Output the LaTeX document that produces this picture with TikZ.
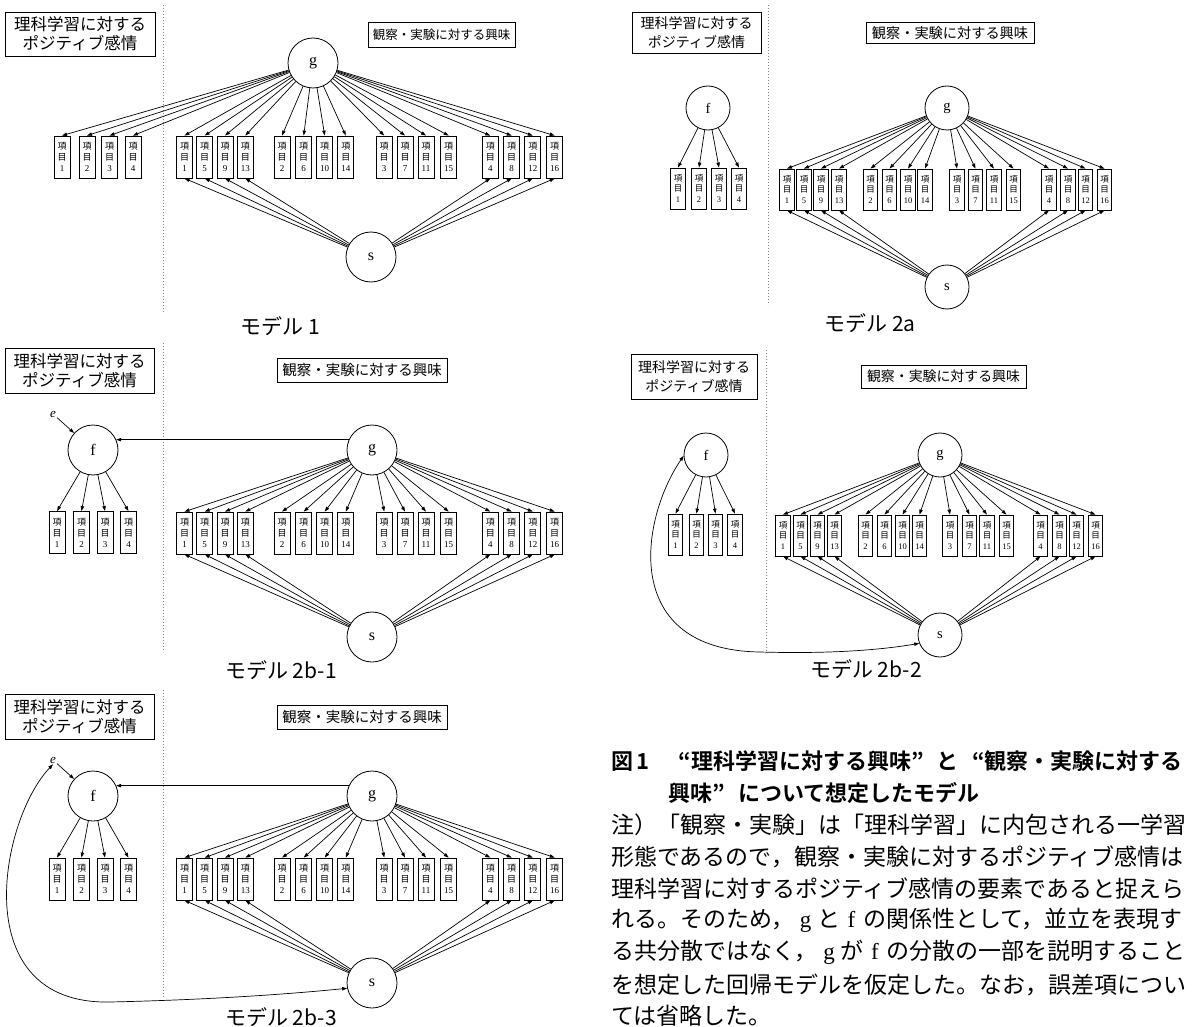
\documentclass[tikz,border=0pt]{standalone}
\usepackage{fontspec}
\setmainfont{Liberation Serif}
\newfontfamily\jp[BoldFont={Noto Sans CJK JP Bold}]{Noto Sans CJK JP}
\usetikzlibrary{arrows.meta}
\newcommand{\itmtxt}[1]{{\jp 項}\\{\jp 目}\\#1}
\newcommand{\gf}[1]{\hbox to 1em{\hss\rmfamily #1\hss}}
\begin{document}
\begin{tikzpicture}[x=1pt,y=-1pt,
 ln/.style={line width=0.7pt},
 arr/.style={ln,-{Triangle[length=5pt,width=3.4pt]}},
 dbl/.style={ln,{Triangle[length=5pt,width=3.4pt]}-{Triangle[length=5pt,width=3.4pt]}},
 latL/.style={circle,draw,line width=0.8pt,inner sep=0,minimum size=50,font=\fontsize{16}{16}\selectfont},
 latR/.style={latL,minimum size=44,font=\fontsize{14.5}{14.5}\selectfont},
 itemL/.style={draw,line width=0.8pt,inner sep=0,minimum width=16,minimum height=42,align=center,font=\fontsize{9}{11}\selectfont},
 itemR/.style={itemL,minimum width=14.5,minimum height=41,font=\fontsize{8.5}{10.5}\selectfont},
 boxA/.style={draw,line width=0.8pt,inner sep=0,align=center},
 divider/.style={gray,dotted,line width=1pt},
 errlab/.style={inner sep=1pt,font=\itshape\fontsize{13}{13}\selectfont},
 mlabel/.style={font=\jp\fontsize{21}{21}\selectfont},
 captext/.style={anchor=west,inner sep=0,font=\jp\fontsize{23}{23}\selectfont},
 captitle/.style={captext,font=\jp\bfseries\fontsize{22}{22}\selectfont},
]
\fill[white] (0,0) rectangle (1197,1027);
\useasboundingbox (0,0) rectangle (1197,1027);

% ================= Model 1 =================
\node[boxA,minimum width=150,minimum height=44,font=\jp\fontsize{16.5}{19}\selectfont] (A-box1) at (80,34) {理科学習に対する\\ポジティブ感情};
\node[boxA,minimum width=147,minimum height=25,font=\jp\fontsize{12.5}{14}\selectfont] (A-box2) at (441.5,34.5) {観察・実験に対する興味};
\draw[divider] (163,5) -- (163,312);
\node[latL] (A-g) at (313,63) {g};
\node[latL] (A-s) at (371,257) {s};
\foreach \n/\x in {1/62,2/87,3/109.5,4/133}
  \node[itemL] (A-f\n) at (\x,157) {\itmtxt{\n}};
\foreach \n/\x in {1/184.5,5/204.7,9/225,13/245.3,2/282,6/303.7,10/324.7,14/345.8,3/384.2,7/405,11/426,15/448.7,4/490.3,8/511.7,12/532.8,16/554.7}
  \node[itemL] (A-\n) at (\x,157) {\itmtxt{\n}};
\foreach \n in {1,2,3,4} \draw[arr] (A-g) -- (A-f\n.north);
\foreach \n in {1,...,16} \draw[arr] (A-g) -- (A-\n.north);
\foreach \n in {1,5,9,13,4,8,12,16} \draw[arr] (A-s) -- (A-\n.south);
\node[mlabel] (A-lab) at (280,326) {モデル 1};

% ================= Model 2a =================
\node[boxA,minimum width=129,minimum height=41,font=\jp\fontsize{14}{19}\selectfont] (B-box1) at (696.5,32.5) {理科学習に対する\\ポジティブ感情};
\node[boxA,minimum width=168,minimum height=21,font=\jp\fontsize{14.2}{15}\selectfont] (B-box2) at (950,33) {観察・実験に対する興味};
\draw[divider] (768,5) -- (768,305);
\node[latR] (B-f) at (708,108) {f};
\node[latR] (B-g) at (947,108) {g};
\node[latR] (B-s) at (947,287) {s};
\foreach \n/\x in {1/678,2/699,3/719,4/739}
  \node[itemR] (B-f\n) at (\x,188.5) {\itmtxt{\n}};
\foreach \n/\x in {1/787,5/804,9/821,13/839,2/870.5,6/889.5,10/908,14/925,3/957,7/975.5,11/994,15/1013.5,4/1049,8/1068,12/1085.5,16/1104.5}
  \node[itemR] (B-\n) at (\x,189.5) {\itmtxt{\n}};
\foreach \n in {1,2,3,4} \draw[arr] (B-f) -- (B-f\n.north);
\foreach \n in {1,...,16} \draw[arr] (B-g) -- (B-\n.north);
\foreach \n in {1,5,9,13,4,8,12,16} \draw[arr] (B-s) -- (B-\n.south);
\node[mlabel] (B-lab) at (870,323) {モデル 2a};

% ================= Model 2b-1 =================
\node[boxA,minimum width=149,minimum height=45,font=\jp\fontsize{16.5}{19}\selectfont] (C-box1) at (79.5,370.5) {理科学習に対する\\ポジティブ感情};
\node[boxA,minimum width=170,minimum height=24,font=\jp\fontsize{14.5}{15}\selectfont] (C-box2) at (362,370) {観察・実験に対する興味};
\draw[divider] (163,343) -- (163,652);
\node[errlab] (C-e) at (53,414) {e};
\node[latL] (C-f) at (93,450) {f};
\node[latL] (C-g) at (372,450) {g};
\node[latL] (C-s) at (372,637) {s};
\foreach \n/\x in {1/57,2/81.5,3/105,4/128.5}
  \node[itemL] (C-f\n) at (\x,532.5) {\itmtxt{\n}};
\foreach \n/\x in {1/184.5,5/204.7,9/225,13/245.3,2/282,6/303.7,10/324.7,14/345.8,3/384.2,7/405,11/426,15/448.7,4/490.3,8/511.7,12/532.8,16/554.7}
  \node[itemL] (C-\n) at (\x,533) {\itmtxt{\n}};
\draw[arr] (C-e) -- (C-f);
\draw[arr] (C-g.156) -- (C-f.24);
\foreach \n in {1,2,3,4} \draw[arr] (C-f) -- (C-f\n.north);
\foreach \n in {1,...,16} \draw[arr] (C-g) -- (C-\n.north);
\foreach \n in {1,5,9,13,4,8,12,16} \draw[arr] (C-s) -- (C-\n.south);
\node[mlabel] (C-lab) at (281,670) {モデル 2b-1};

% ================= Model 2b-2 =================
\node[boxA,minimum width=126,minimum height=45,font=\jp\fontsize{14}{19}\selectfont] (D-box1) at (694,376.5) {理科学習に対する\\ポジティブ感情};
\node[boxA,minimum width=165,minimum height=23,font=\jp\fontsize{13.9}{15}\selectfont] (D-box2) at (943.5,376.5) {観察・実験に対する興味};
\draw[divider] (766,350) -- (766,652);
\node[latR] (D-f) at (706,455) {f};
\node[latR] (D-g) at (940,455) {g};
\node[latR] (D-s) at (940,635) {s};
\foreach \n/\x in {1/675.5,2/696.5,3/715.5,4/735}
  \node[itemR] (D-f\n) at (\x,534.5) {\itmtxt{\n}};
\foreach \n/\x in {1/783,5/800.5,9/817.5,13/834.5,2/865.5,6/884.5,10/902.5,14/919.5,3/950,7/969.5,11/987,15/1006.5,4/1040.5,8/1059.5,12/1076.5,16/1095.5}
  \node[itemR] (D-\n) at (\x,535.5) {\itmtxt{\n}};
\foreach \n in {1,2,3,4} \draw[arr] (D-f) -- (D-f\n.north);
\foreach \n in {1,...,16} \draw[arr] (D-g) -- (D-\n.north);
\foreach \n in {1,5,9,13,4,8,12,16} \draw[arr] (D-s) -- (D-\n.south);
\draw[dbl] (D-f.182) .. controls (640,520) and (620,650) .. (760,652)
  .. controls (830,654) and (880,650) .. (D-s.202);
\node[mlabel] (D-lab) at (866,669) {モデル 2b-2};

% ================= Model 2b-3 =================
\node[boxA,minimum width=149,minimum height=45,font=\jp\fontsize{16.5}{19}\selectfont] (E-box1) at (79.5,716.5) {理科学習に対する\\ポジティブ感情};
\node[boxA,minimum width=170,minimum height=24,font=\jp\fontsize{14.5}{15}\selectfont] (E-box2) at (362,717) {観察・実験に対する興味};
\draw[divider] (163,690) -- (163,998);
\node[errlab] (E-e) at (53,760) {e};
\node[latL] (E-f) at (93,796) {f};
\node[latL] (E-g) at (372,796) {g};
\node[latL] (E-s) at (372,983) {s};
\foreach \n/\x in {1/57,2/81.5,3/105,4/128.5}
  \node[itemL] (E-f\n) at (\x,879) {\itmtxt{\n}};
\foreach \n/\x in {1/184.5,5/204.7,9/225,13/245.3,2/282,6/303.7,10/324.7,14/345.8,3/384.2,7/405,11/426,15/448.7,4/490.3,8/511.7,12/532.8,16/554.7}
  \node[itemL] (E-\n) at (\x,879) {\itmtxt{\n}};
\draw[arr] (E-e) -- (E-f);
\draw[arr] (E-g.156) -- (E-f.24);
\foreach \n in {1,2,3,4} \draw[arr] (E-f) -- (E-f\n.north);
\foreach \n in {1,...,16} \draw[arr] (E-g) -- (E-\n.north);
\foreach \n in {1,5,9,13,4,8,12,16} \draw[arr] (E-s) -- (E-\n.south);
\draw[dbl] (E-e.south) .. controls (0,820) and (-35,1005) .. (110,1002)
  .. controls (200,1000) and (280,995) .. (E-s.192);
\node[mlabel] (E-lab) at (281,1017) {モデル 2b-3};

% ================= Caption =================
\node[captitle] (T1) at (611,761) {図\,1\hspace{1.3em}“理科学習に対する興味”\hspace{0.6em}と\hspace{0.6em}“観察・実験に対する};
\node[captitle] (T2) at (668,793) {興味”\hspace{0.6em}について想定したモデル};
\node[captext] (L1) at (611,825) {注）「観察・実験」は「理科学習」に内包される一学習};
\node[captext] (L2) at (611,857) {形態であるので，観察・実験に対するポジティブ感情は};
\node[captext] (L3) at (611,889) {理科学習に対するポジティブ感情の要素であると捉えら};
\node[captext] (L4) at (611,920.5) {れる。そのため，\gf{g}と\gf{f}の関係性として，並立を表現す};
\node[captext] (L5) at (611,952.5) {る共分散ではなく，\gf{g}が\gf{f}の分散の一部を説明すること};
\node[captext] (L6) at (611,984.5) {を想定した回帰モデルを仮定した。なお，誤差項につい};
\node[captext] (L7) at (611,1016) {ては省略した。};
\end{tikzpicture}
\end{document}
